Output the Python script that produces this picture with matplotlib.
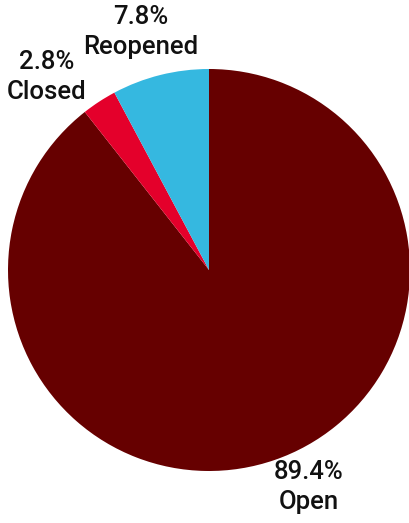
import matplotlib.pyplot as plt

# Werte aus dem Bild
kategorien = ["Open", "Closed", "Reopened"]
anteile = [89.4, 2.8, 7.8]
farben = ["#660000", "#e4002b", "#35b8e0"]

# Label-Positionen in Pixel (x, y von oben)
label_pos = {"Open": (309, 487), "Closed": (47, 77), "Reopened": (141, 32)}

H = 523
fig = plt.figure(figsize=(4.09, 5.23), dpi=100)
ax = fig.add_axes([0, 0, 1, 1])

ax.pie(anteile, colors=farben, startangle=90, counterclock=False,
       center=(209, H - 270), radius=201, frame=True,
       wedgeprops={"linewidth": 0})
ax.set_xlim(0, 409)
ax.set_ylim(0, H)
ax.set_aspect("auto")
ax.axis("off")

for name, wert in zip(kategorien, anteile):
    x, y = label_pos[name]
    ax.text(x, H - y, f"{wert:.1f}%\n{name}", ha="center", va="center",
            fontsize=18.5, family="Roboto", fontweight="medium",
            linespacing=1.28, color="#111111")

fig.savefig("out.png", dpi=100)
